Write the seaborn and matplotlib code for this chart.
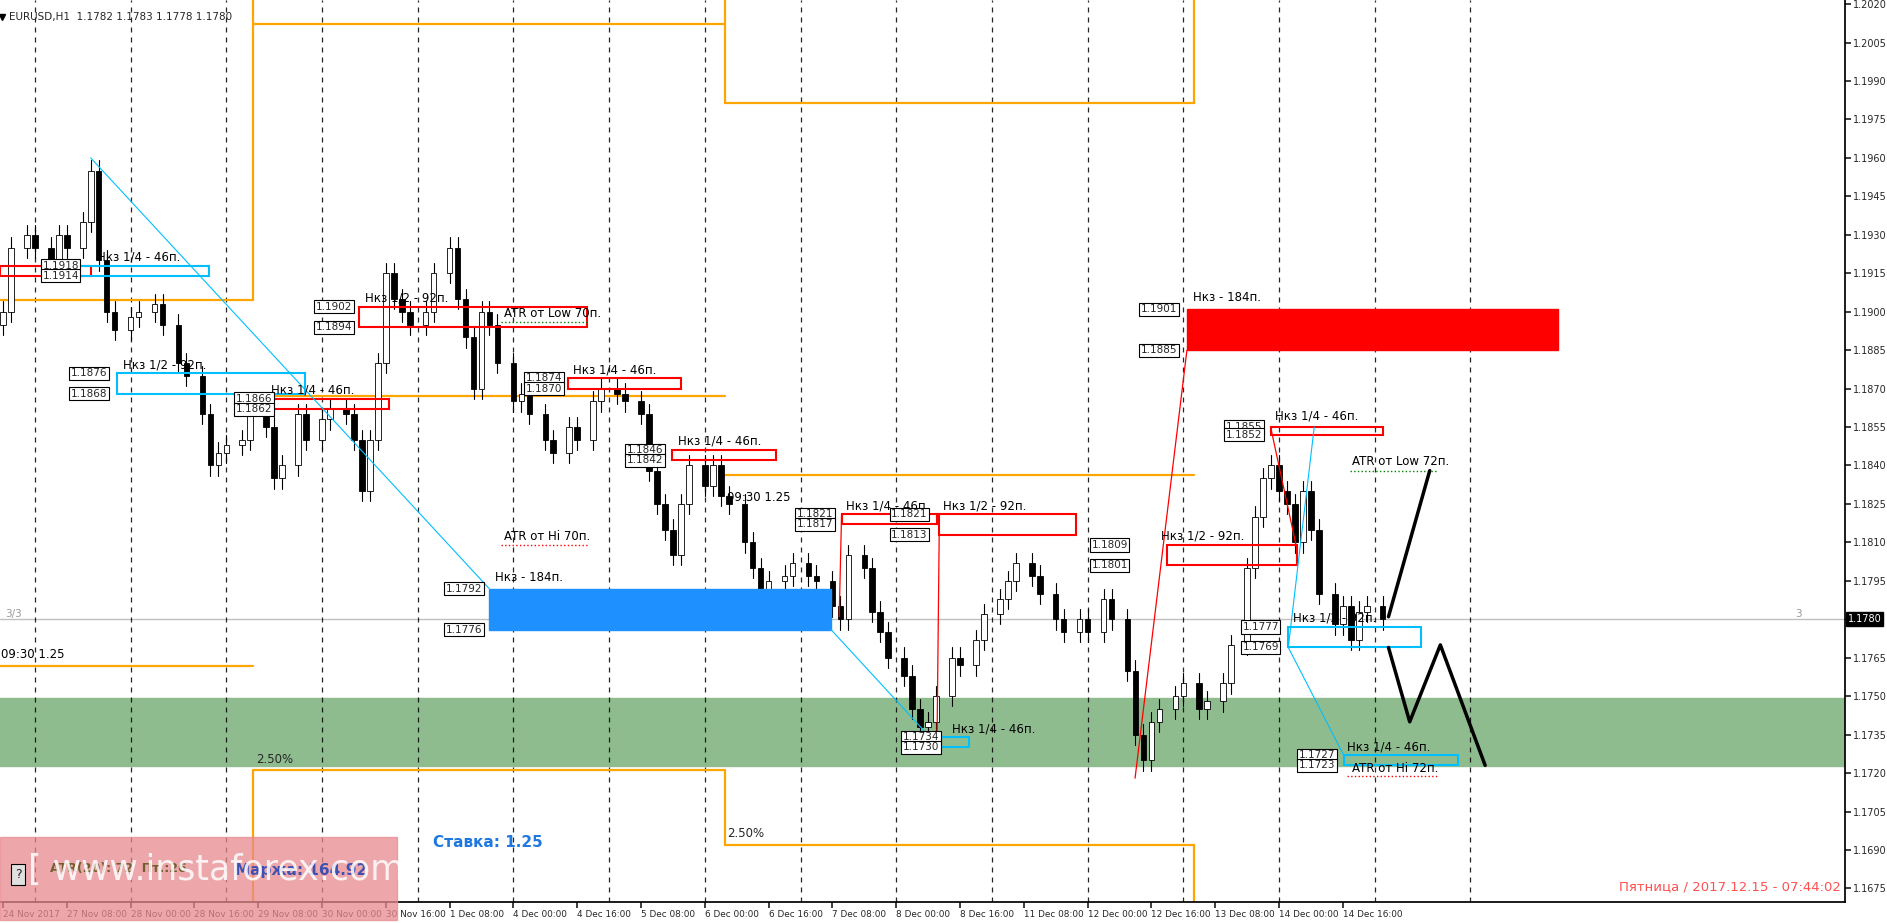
import numpy as np
import pandas as pd
import matplotlib
matplotlib.use("Agg")
import matplotlib.pyplot as plt
import seaborn as sns
from matplotlib.patches import Rectangle

sns.set_theme(style="white")
plt.rcParams['font.family'] = ['DejaVu Sans']

# ---------------- data ----------------
hours = [0,1,3,4,6,7,8,10,11,12,13,14,16,17,19,20,22,23,25,26,27,28,30,31,33,34,35,37,38,40,41,43,44,45,46,47,48,49,50,51,53,54,56,57,58,59,60,61,62,64,65,66,68,69,71,72,74,75,77,78,80,81,82,83,84,85,86,88,89,90,91,93,94,95,96,98,99,101,102,104,105,106,108,109,110,111,113,114,115,116,117,119,120,122,123,125,126,127,129,130,132,133,135,136,138,139,141,142,143,144,145,147,148,150,151,153,154,156,157,158,159,160,161,162,163,164,165,167,168,169,170,171,173]
closes = [1.1900,1.1925,1.1930,1.1925,1.1918,1.1930,1.1925,1.1935,1.1955,1.1920,1.1900,1.1893,1.1898,1.1900,1.1903,1.1895,1.1880,1.1875,1.1860,1.1840,1.1845,1.1848,1.1850,1.1860,1.1855,1.1835,1.1840,1.1860,1.1850,1.1858,1.1862,1.1860,1.1850,1.1830,1.1850,1.1880,1.1915,1.1905,1.1900,1.1895,1.1900,1.1915,1.1925,1.1905,1.1890,1.1870,1.1900,1.1895,1.1880,1.1865,1.1868,1.1860,1.1850,1.1845,1.1855,1.1850,1.1865,1.1870,1.1868,1.1865,1.1860,1.1838,1.1825,1.1815,1.1805,1.1825,1.1840,1.1832,1.1840,1.1828,1.1825,1.1810,1.1800,1.1790,1.1795,1.1797,1.1802,1.1797,1.1795,1.1785,1.1780,1.1805,1.1800,1.1783,1.1775,1.1765,1.1758,1.1745,1.1738,1.1740,1.1750,1.1765,1.1762,1.1772,1.1782,1.1788,1.1795,1.1802,1.1797,1.1790,1.1780,1.1775,1.1780,1.1775,1.1788,1.1780,1.1760,1.1735,1.1725,1.1740,1.1745,1.1750,1.1755,1.1745,1.1748,1.1755,1.1770,1.1800,1.1820,1.1835,1.1840,1.1830,1.1825,1.1810,1.1830,1.1815,1.1790,1.1778,1.1785,1.1772,1.1783,1.1785,1.1780]
tick_labels = ["24 Nov 2017","27 Nov 08:00","28 Nov 00:00","28 Nov 16:00","29 Nov 08:00","30 Nov 00:00","30 Nov 16:00","1 Dec 08:00","4 Dec 00:00","4 Dec 16:00","5 Dec 08:00","6 Dec 00:00","6 Dec 16:00","7 Dec 08:00","8 Dec 00:00","8 Dec 16:00","11 Dec 08:00","12 Dec 00:00","12 Dec 16:00","13 Dec 08:00","14 Dec 00:00","14 Dec 16:00"]
price_ticks = [1.1675 + 0.0015*i for i in range(24)]

# ---------------- figure ----------------
W, H = 1887, 923
fig = plt.figure(figsize=(W/100, H/100), dpi=100)
ax = fig.add_axes([0, 21/H, 1845/W, 902/H])
XL = (-3/7.975, (1845-3)/7.975)
YL = (1.16697, 1.20216)
ax.set_xlim(*XL); ax.set_ylim(*YL)

def D(d):  # approx index from reference layout coordinate
    return d*0.1478 - 0.38

# green band
ax.axhspan(1.17228, 1.17493, color="#8fbc8f", zorder=0)
# current price line
ax.axhline(1.1780, color="#c0c0c0", lw=1, zorder=1)
# dashed verticals
for v in range(4, 185, 12):
    ax.axvline(v, color="black", ls=(0, (4, 4)), lw=0.9, alpha=0.85, zorder=1)

OR = "#ffa500"
def seg(x0, y0, x1, y1, **kw):
    ax.plot([x0, x1], [y0, y1], **kw)
# orange structures
ow = dict(color=OR, lw=1.6, zorder=2)
seg(D(0), 1.19045, D(215), 1.19045, **ow)
seg(D(215), 1.19045, D(215), YL[1], **ow)
seg(D(215), 1.20124, D(615), 1.20124, **ow)
seg(D(615), YL[1], D(615), 1.19815, **ow)
seg(D(615), 1.19815, D(1013), 1.19815, **ow)
seg(D(1013), 1.19815, D(1013), YL[1], **ow)
seg(D(215), 1.18671, D(615), 1.18671, **ow)
seg(D(615), 1.18363, D(1013), 1.18363, **ow)
seg(D(0), 1.17618, D(215), 1.17618, **ow)
seg(D(215), 1.17212, D(615), 1.17212, **ow)
seg(D(215), 1.17212, D(215), YL[0], **ow)
seg(D(615), 1.17212, D(615), 1.16920, **ow)
seg(D(615), 1.16920, D(1013), 1.16920, **ow)
seg(D(1013), 1.16920, D(1013), YL[0], **ow)
ax.text(D(1), 1.1765, "09:30 1.25", fontsize=8.5, color="black")
ax.text(D(617), 1.1826, "09:30 1.25", fontsize=8.5, color="black")
ax.text(D(217), 1.1724, "2.50%", fontsize=8.5)
ax.text(D(617), 1.1695, "2.50%", fontsize=8.5)

# candles
prev = closes[0] - 0.0005
for h, c in zip(hours, closes):
    o = prev
    lo, hi = min(o, c), max(o, c)
    ax.plot([h, h], [lo-0.0004, hi+0.0004], color="black", lw=0.8, zorder=3)
    up = c >= o
    ax.add_patch(Rectangle((h-0.35, lo), 0.7, max(hi-lo, 0.00005),
                 facecolor="white" if up else "black", edgecolor="black", lw=0.6, zorder=4))
    prev = c

# filled zones
ax.add_patch(Rectangle((D(415), 1.1776), D(705)-D(415), 0.0016, color="#1e90ff", zorder=5))
ax.add_patch(Rectangle((D(1007), 1.1885), D(1322)-D(1007), 0.0016, color="#ff0000", zorder=5))

def box(x0, x1, y0, y1, col):
    ax.add_patch(Rectangle((D(x0), y0), D(x1)-D(x0), y1-y0, fill=False, edgecolor=col, lw=1.5, zorder=6))
RED, BLU = "#ff0000", "#00bfff"
for b in [(0,77,1.1914,1.1918),(305,498,1.1894,1.1902),(482,578,1.1870,1.1874),(570,658,1.1842,1.1846),
          (225,330,1.1862,1.1866),(714,795,1.1817,1.1821),(797,913,1.1813,1.1821),(990,1100,1.1801,1.1809),
          (1078,1173,1.1852,1.1855)]:
    box(*b, RED)
for b in [(67,177,1.1914,1.1918),(99,259,1.1868,1.1876),(793,822,1.1730,1.1734),(1093,1206,1.1769,1.1777),
          (1140,1237,1.1723,1.1727)]:
    box(*b, BLU)

fs = 8.5
for x, y, t in [(82,1.1920,"Нкз 1/4 - 46п."),(104,1.1878,"Нкз 1/2 - 92п."),(310,1.1904,"Нкз 1/2 - 92п."),
                (486,1.1876,"Нкз 1/4 - 46п."),(575,1.1848,"Нкз 1/4 - 46п."),(230,1.1868,"Нкз 1/4 - 46п."),
                (718,1.1823,"Нкз 1/4 - 46п."),(800,1.1823,"Нкз 1/2 - 92п."),(808,1.1736,"Нкз 1/4 - 46п."),
                (420,1.1795,"Нкз - 184п."),(1012,1.1904,"Нкз - 184п."),(985,1.1811,"Нкз 1/2 - 92п."),
                (1082,1.1858,"Нкз 1/4 - 46п."),(1097,1.1779,"Нкз 1/2 - 92п."),(1143,1.1729,"Нкз 1/4 - 46п."),
                (428,1.1898,"ATR от Low 70п."),(428,1.1811,"ATR от Hi 70п."),(1147,1.1840,"ATR от Low 72п."),
                (1147,1.17205,"ATR от Hi 72п.")]:
    ax.text(D(x), y, t, fontsize=fs, color="black", zorder=8)
ax.plot([D(425), D(498)], [1.1896, 1.1896], color="green", ls=":", lw=1, zorder=7)
ax.plot([D(425), D(500)], [1.1809, 1.1809], color="red", ls=":", lw=1, zorder=7)
ax.plot([D(1145), D(1220)], [1.1838, 1.1838], color="green", ls=":", lw=1, zorder=7)
ax.plot([D(1143), D(1220)], [1.1719, 1.1719], color="red", ls=":", lw=1, zorder=7)

# price tags
for x, y in [(378,1.1792),(378,1.1776),(968,1.1901),(968,1.1885),(926,1.1809),(926,1.1801),(676,1.1821),(676,1.1817),
             (756,1.1821),(756,1.1813),(1054,1.1777),(1054,1.1769),(1102,1.1727),(1102,1.1723),(1040,1.1855),(1040,1.1852),
             (60,1.1876),(60,1.1868),(268,1.1902),(268,1.1894),(36,1.1918),(36,1.1914),(766,1.1734),(766,1.1730),
             (446,1.1874),(446,1.1870),(532,1.1846),(532,1.1842),(200,1.1866),(200,1.1862)]:
    ax.text(D(x), y, f"{y:.4f}", fontsize=7.5, va="center", zorder=9,
            bbox=dict(boxstyle="square,pad=0.15", fc="white", ec="black", lw=0.8))

# thin trend lines
seg(D(77), 1.1960, D(415), 1.1792, color="#00bfff", lw=0.8, zorder=6)
seg(D(705), 1.1776, D(793), 1.1732, color="#00bfff", lw=0.8, zorder=6)
seg(D(795), 1.1733, D(797), 1.1821, color=RED, lw=0.9, zorder=6)
seg(D(712), 1.1781, D(714), 1.1821, color=RED, lw=0.9, zorder=6)
seg(D(963), 1.1718, D(1007), 1.1885, color=RED, lw=0.9, zorder=6)
seg(D(1078), 1.1855, D(1100), 1.1808, color=RED, lw=0.9, zorder=6)
seg(D(1093), 1.1769, D(1140), 1.1727, color="#00bfff", lw=0.8, zorder=6)
seg(D(1093), 1.1769, D(1115), 1.1855, color="#00bfff", lw=0.8, zorder=6)
# forecast
ax.plot([D(1178), D(1213)], [1.1781, 1.1838], color="black", lw=2.5, zorder=7)
ax.plot([D(1178), D(1196), D(1222), D(1260)], [1.1769, 1.1740, 1.1770, 1.1723], color="black", lw=2.5, zorder=7)

# header and misc text
ax.text(D(8), 1.2015, "EURUSD,H1  1.1782 1.1783 1.1778 1.1780", fontsize=7.5, va="center")
ax.plot([D(2)], [1.2015], marker="v", color="black", ms=5)
ax.text(D(4), 1.1782, "3/3", fontsize=7.5, color="#999999", va="center")
ax.text(D(1523), 1.1782, "3", fontsize=7.5, color="#999999", va="center")
ax.text(XL[1]-0.5, 1.16755, "Пятница / 2017.12.15 - 07:44:02", fontsize=9.5, color="#ff5050", ha="right", va="center")
ax.text(D(367), 1.1693, "Ставка: 1.25", fontsize=11, color="#1e78e0", weight="bold", va="center")

# axes styling
for s in ["left", "top"]:
    ax.spines[s].set_visible(False)
ax.spines["right"].set_color("black"); ax.spines["bottom"].set_color("black")
ax.yaxis.tick_right()
ax.set_yticks(price_ticks)
ax.set_yticklabels(["" if abs(p-1.1780) < 1e-6 else f"{p:.4f}" for p in price_ticks], fontsize=7)
ax.tick_params(axis="y", length=4, pad=2, right=True)
ax.set_xticks([8*k for k in range(len(tick_labels))])
ax.set_xticklabels(tick_labels, fontsize=6.4, ha="left", family=["Liberation Sans Narrow", "DejaVu Sans"])
ax.tick_params(axis="x", length=4, pad=2, bottom=True)
ax.text(1.0015, (1.1780-YL[0])/(YL[1]-YL[0]), "1.1780", transform=ax.transAxes, fontsize=7, color="white",
        va="center", bbox=dict(boxstyle="square,pad=0.2", fc="black", ec="black"))

# watermark box (figure coords)
fig.patches.append(Rectangle((0, (923-920)/H), 397/W, 83/H, transform=fig.transFigure,
                             color="#e88a8f", alpha=0.75, zorder=20))
fig.text(15/W, 1-878/H, "?", fontsize=9, zorder=21,
         bbox=dict(boxstyle="square,pad=0.3", fc="#e0e0e0", ec="black", lw=0.8))
fig.text(50/W, 1-872/H, "ATR(20): 72  Пт.:26", fontsize=9, color="#706030", weight="bold", zorder=21)
fig.text(235/W, 1-875/H, "Маржа: 164.92", fontsize=11, color="#4050b0", weight="bold", zorder=21)
fig.text(28/W, 1-880/H, "[ www.instaforex.com ]", fontsize=25, color="white", alpha=0.85, zorder=22)

fig.savefig("out.png", dpi=100, facecolor="white")
